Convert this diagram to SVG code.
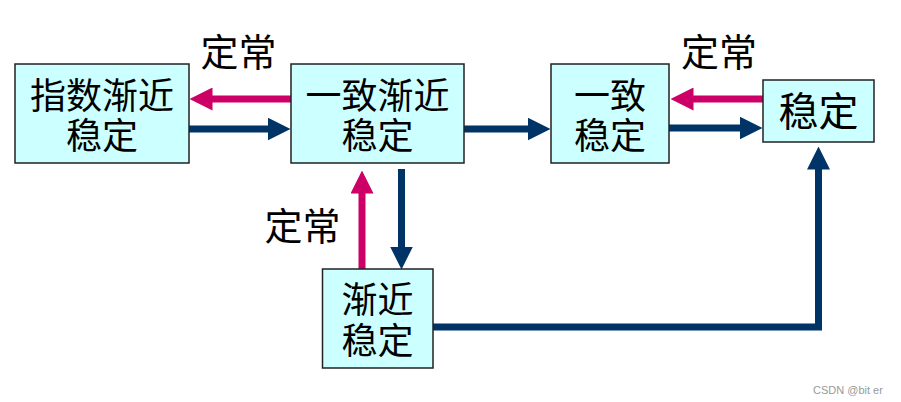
<svg xmlns="http://www.w3.org/2000/svg" width="901" height="402" viewBox="0 0 901 402">
<defs>
<style>
.box{fill:#CCFFFF;stroke:#222;stroke-width:1.5}
.t{font-family:"Noto Sans CJK SC","Noto Sans CJK JP",sans-serif;font-size:36px;fill:#000;text-anchor:middle}
.lbl{font-family:"Noto Sans CJK SC","Noto Sans CJK JP",sans-serif;font-size:38px;fill:#000;text-anchor:middle}
.blue{fill:none;stroke:#003366;stroke-width:7}
.pink{fill:none;stroke:#CC0066;stroke-width:7}
.wm{font-family:"Liberation Sans",Arial,sans-serif;font-size:11px;fill:#999}
</style>
<marker id="hb" viewBox="0 0 23 23" markerWidth="23" markerHeight="23" refX="0.5" refY="11.5" markerUnits="userSpaceOnUse" orient="auto">
<path d="M0,0 L23,11.5 L0,23 z" fill="#003366"/>
</marker>
<marker id="hp" viewBox="0 0 23 23" markerWidth="23" markerHeight="23" refX="0.5" refY="11.5" markerUnits="userSpaceOnUse" orient="auto">
<path d="M0,0 L23,11.5 L0,23 z" fill="#CC0066"/>
</marker>
</defs>
<rect width="901" height="402" fill="#fff"/>
<g id="connectors">
<path class="pink" d="M291,99 H212" marker-end="url(#hp)"/>
<path class="blue" d="M189,129 H268" marker-end="url(#hb)"/>
<path class="blue" d="M464,129 H528" marker-end="url(#hb)"/>
<path class="pink" d="M763,99 H693" marker-end="url(#hp)"/>
<path class="blue" d="M669,128 H740" marker-end="url(#hb)"/>
<path class="pink" d="M362,269 V193" marker-end="url(#hp)"/>
<path class="blue" d="M401.5,169 V247" marker-end="url(#hb)"/>
<path class="blue" d="M433,327 H818.5 V169" marker-end="url(#hb)" stroke-linejoin="miter"/>
</g>
<g id="n1">
<rect class="box" x="15" y="64" width="174" height="99"/>
<text class="t" x="102" y="109">指数渐近</text>
<text class="t" x="102" y="149">稳定</text>
</g>
<g id="n2">
<rect class="box" x="291" y="64" width="173" height="99"/>
<text class="t" x="377.5" y="109">一致渐近</text>
<text class="t" x="377.5" y="149">稳定</text>
</g>
<g id="n3">
<rect class="box" x="551" y="64" width="118" height="99"/>
<text class="t" x="610" y="109">一致</text>
<text class="t" x="610" y="149">稳定</text>
</g>
<g id="n4">
<rect class="box" x="763" y="80" width="111" height="62"/>
<text class="t" x="818.5" y="126" style="font-size:40px">稳定</text>
</g>
<g id="n5">
<rect class="box" x="322.5" y="269" width="110.5" height="99"/>
<text class="t" x="377.5" y="313">渐近</text>
<text class="t" x="377.5" y="354">稳定</text>
</g>
<g id="labels">
<text class="lbl" x="238.5" y="66">定常</text>
<text class="lbl" x="719" y="66">定常</text>
<text class="lbl" x="302.5" y="240">定常</text>
<text class="wm" x="813" y="394">CSDN @bit er</text>
</g>
</svg>
